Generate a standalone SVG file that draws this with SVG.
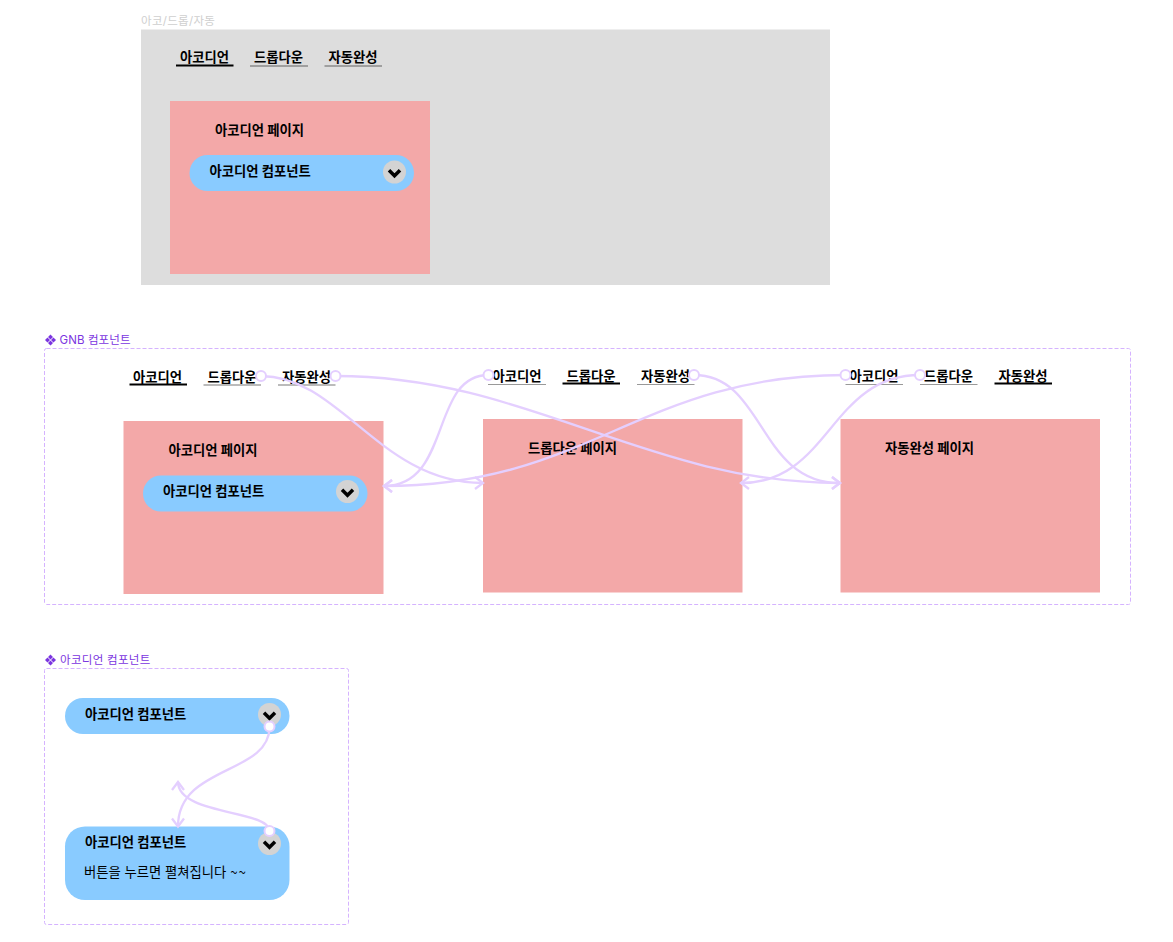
<svg xmlns="http://www.w3.org/2000/svg" width="1173" height="942" viewBox="0 0 1173 942">
<style>
text{font-family:"Inter","Noto Sans CJK KR","Noto Sans",sans-serif;font-size:13.33px;font-weight:700;fill:#000}
.reg{font-weight:400}
.lab{font-size:11.500px;font-weight:400;letter-spacing:.3px;fill:#7B35E0}
.top{font-size:11.500px;font-weight:400;letter-spacing:.3px;fill:#CFCFCF}
.frame{fill:none;stroke:#D5B3FF;stroke-width:1;stroke-dasharray:4 2}
.page{fill:#F3A8A8}
.pill{fill:#89CBFF}
.btn{fill:#D3D3D3}
.chev{fill:none;stroke:#000;stroke-width:3.500}
.on{stroke:#000;stroke-width:2;fill:none}
.off{stroke:#8A8A8A;stroke-width:1.500;fill:none}
.off2{stroke:#BBBBBB;stroke-width:2;fill:none}
.off3{stroke:#999999;stroke-width:1;fill:none}
.wire{fill:none;stroke:#E4CFFF;stroke-width:2.300}
.dot{fill:#fff;stroke:#E4CFFF;stroke-width:2}
.dia{fill:#7B35E0}
</style>
<defs>
<marker id="ah" markerUnits="userSpaceOnUse" markerWidth="20" markerHeight="20" refX="10" refY="10" orient="auto">
<path d="M2,4 L10,10 L2,16" fill="none" stroke="#E4CFFF" stroke-width="2.300"/>
</marker>
<g id="chevron"><path class="chev" d="M-5.500,-1.800 L0,3.700 L5.500,-1.800"/></g>
<g id="icon"><path class="dia" d="M0,-5.500L2.500,-3L0,-.5L-2.500,-3ZM0,5.500L2.500,3L0,.5L-2.500,3ZM-5.500,0L-3,-2.500L-.5,0L-3,2.500ZM5.500,0L3,-2.500L.5,0L3,2.500Z"/></g>
</defs>

<g id="top-frame">
<text class="top" x="141" y="24.500">아코/드롭/자동</text>
<rect x="141" y="29.500" width="689" height="255.500" fill="#DDDDDD"/>
<text x="180" y="62">아코디언</text><path class="on" d="M176,65.500H233.500"/>
<text x="254" y="62">드롭다운</text><path class="off" d="M250,66H308"/>
<text x="328.500" y="62">자동완성</text><path class="off" d="M324.500,66H382"/>
</g>
<g id="top-page">
<rect class="page" x="170" y="101" width="260" height="173"/>
<text x="215" y="134.500">아코디언 페이지</text>
<rect class="pill" x="189.500" y="155" width="224.500" height="36" rx="18"/>
<text x="209.500" y="176">아코디언 컴포넌트</text>
<circle class="btn" cx="394.500" cy="172" r="11.500"/><use href="#chevron" x="394.500" y="172"/>
</g>

<g id="gnb-frame">
<use href="#icon" x="50.500" y="340"/>
<text class="lab" x="59.500" y="344" style="letter-spacing:.1px">GNB 컴포넌트</text>
<rect class="frame" x="44.500" y="348.500" width="1086" height="256" rx="2"/>
</g>
<g id="gnb-accordion">
<text x="133" y="382">아코디언</text><path class="on" d="M129.500,384.500H187"/>
<text x="207.500" y="382">드롭다운</text><path class="off2" d="M203.500,385H261"/>
<text x="282" y="382">자동완성</text><path class="off2" d="M278,385H335.500"/>
<rect class="page" x="123.500" y="421" width="260" height="173"/>
<text x="168.500" y="454.500">아코디언 페이지</text>
<rect class="pill" x="143" y="475.500" width="224.500" height="36" rx="18"/>
<text x="163" y="496">아코디언 컴포넌트</text>
<circle class="btn" cx="347.500" cy="491.500" r="11.500"/><use href="#chevron" x="347.500" y="491.500"/>
</g>
<g id="gnb-dropdown">
<text x="492.500" y="380.500">아코디언</text><path class="off3" d="M488,384.500H546"/>
<text x="566.500" y="380.500">드롭다운</text><path class="on" d="M562.500,383.500H620"/>
<text x="641" y="380.500">자동완성</text><path class="off3" d="M637,384.500H694.500"/>
<rect class="page" x="483" y="419" width="259.500" height="173.500"/>
<text x="528" y="453">드롭다운 페이지</text>
</g>
<g id="gnb-autocomplete">
<text x="849.500" y="380.500">아코디언</text><path class="off3" d="M845.500,384.500H903"/>
<text x="924" y="380.500">드롭다운</text><path class="off3" d="M920,384.500H977.500"/>
<text x="998.500" y="380.500">자동완성</text><path class="on" d="M994.500,383.500H1052"/>
<rect class="page" x="840.500" y="419" width="259.500" height="173.500"/>
<text x="885" y="453">자동완성 페이지</text>
</g>

<g id="accordion-frame">
<use href="#icon" x="50.500" y="660"/>
<text class="lab" x="60" y="663.500">아코디언 컴포넌트</text>
<rect class="frame" x="44.500" y="668.500" width="304" height="256" rx="2"/>
</g>
<g id="accordion-closed">
<rect class="pill" x="65" y="698" width="224.500" height="36" rx="18"/>
<text x="85" y="719">아코디언 컴포넌트</text>
<circle class="btn" cx="269.500" cy="714.500" r="11.500"/><use href="#chevron" x="269.500" y="714.500"/>
</g>
<g id="accordion-open">
<rect class="pill" x="65" y="826.500" width="224.500" height="73.500" rx="20"/>
<text x="85" y="847">아코디언 컴포넌트</text>
<circle class="btn" cx="269.500" cy="843.500" r="11.500"/><use href="#chevron" x="269.500" y="843.500"/>
<text class="reg" x="84" y="876.500">버튼을 누르면 펼쳐집니다 <tspan font-family="Noto Sans CJK KR" letter-spacing="1">~~</tspan></text>
</g>

<g id="connectors">
<path class="wire" marker-end="url(#ah)" d="M261,376C340,376 380,483 483,483"/>
<path class="wire" marker-end="url(#ah)" d="M335.500,376C530,376 645,483 840,483"/>
<path class="wire" marker-end="url(#ah)" d="M488.500,375C430,375 452,486 384,486"/>
<path class="wire" marker-end="url(#ah)" d="M694,375C765,375 758,483 840,483"/>
<path class="wire" marker-end="url(#ah)" d="M845.500,375C640,375 590,486 384,486"/>
<path class="wire" marker-end="url(#ah)" d="M920,375C830,375 830,483 741,483"/>
<path class="wire" marker-end="url(#ah)" d="M269.500,727C269.500,775 178,765 178,826.500"/>
<path class="wire" marker-end="url(#ah)" d="M269.500,831C269.500,810 178,815 178,782"/>
<circle class="dot" cx="261" cy="376" r="5"/>
<circle class="dot" cx="335.500" cy="376" r="5"/>
<circle class="dot" cx="488.500" cy="375" r="5"/>
<circle class="dot" cx="694" cy="375" r="5"/>
<circle class="dot" cx="845.500" cy="375" r="5"/>
<circle class="dot" cx="920" cy="375" r="5"/>
<circle class="dot" cx="269.500" cy="726.500" r="5"/>
<circle class="dot" cx="269.500" cy="831" r="5"/>
</g>
</svg>
